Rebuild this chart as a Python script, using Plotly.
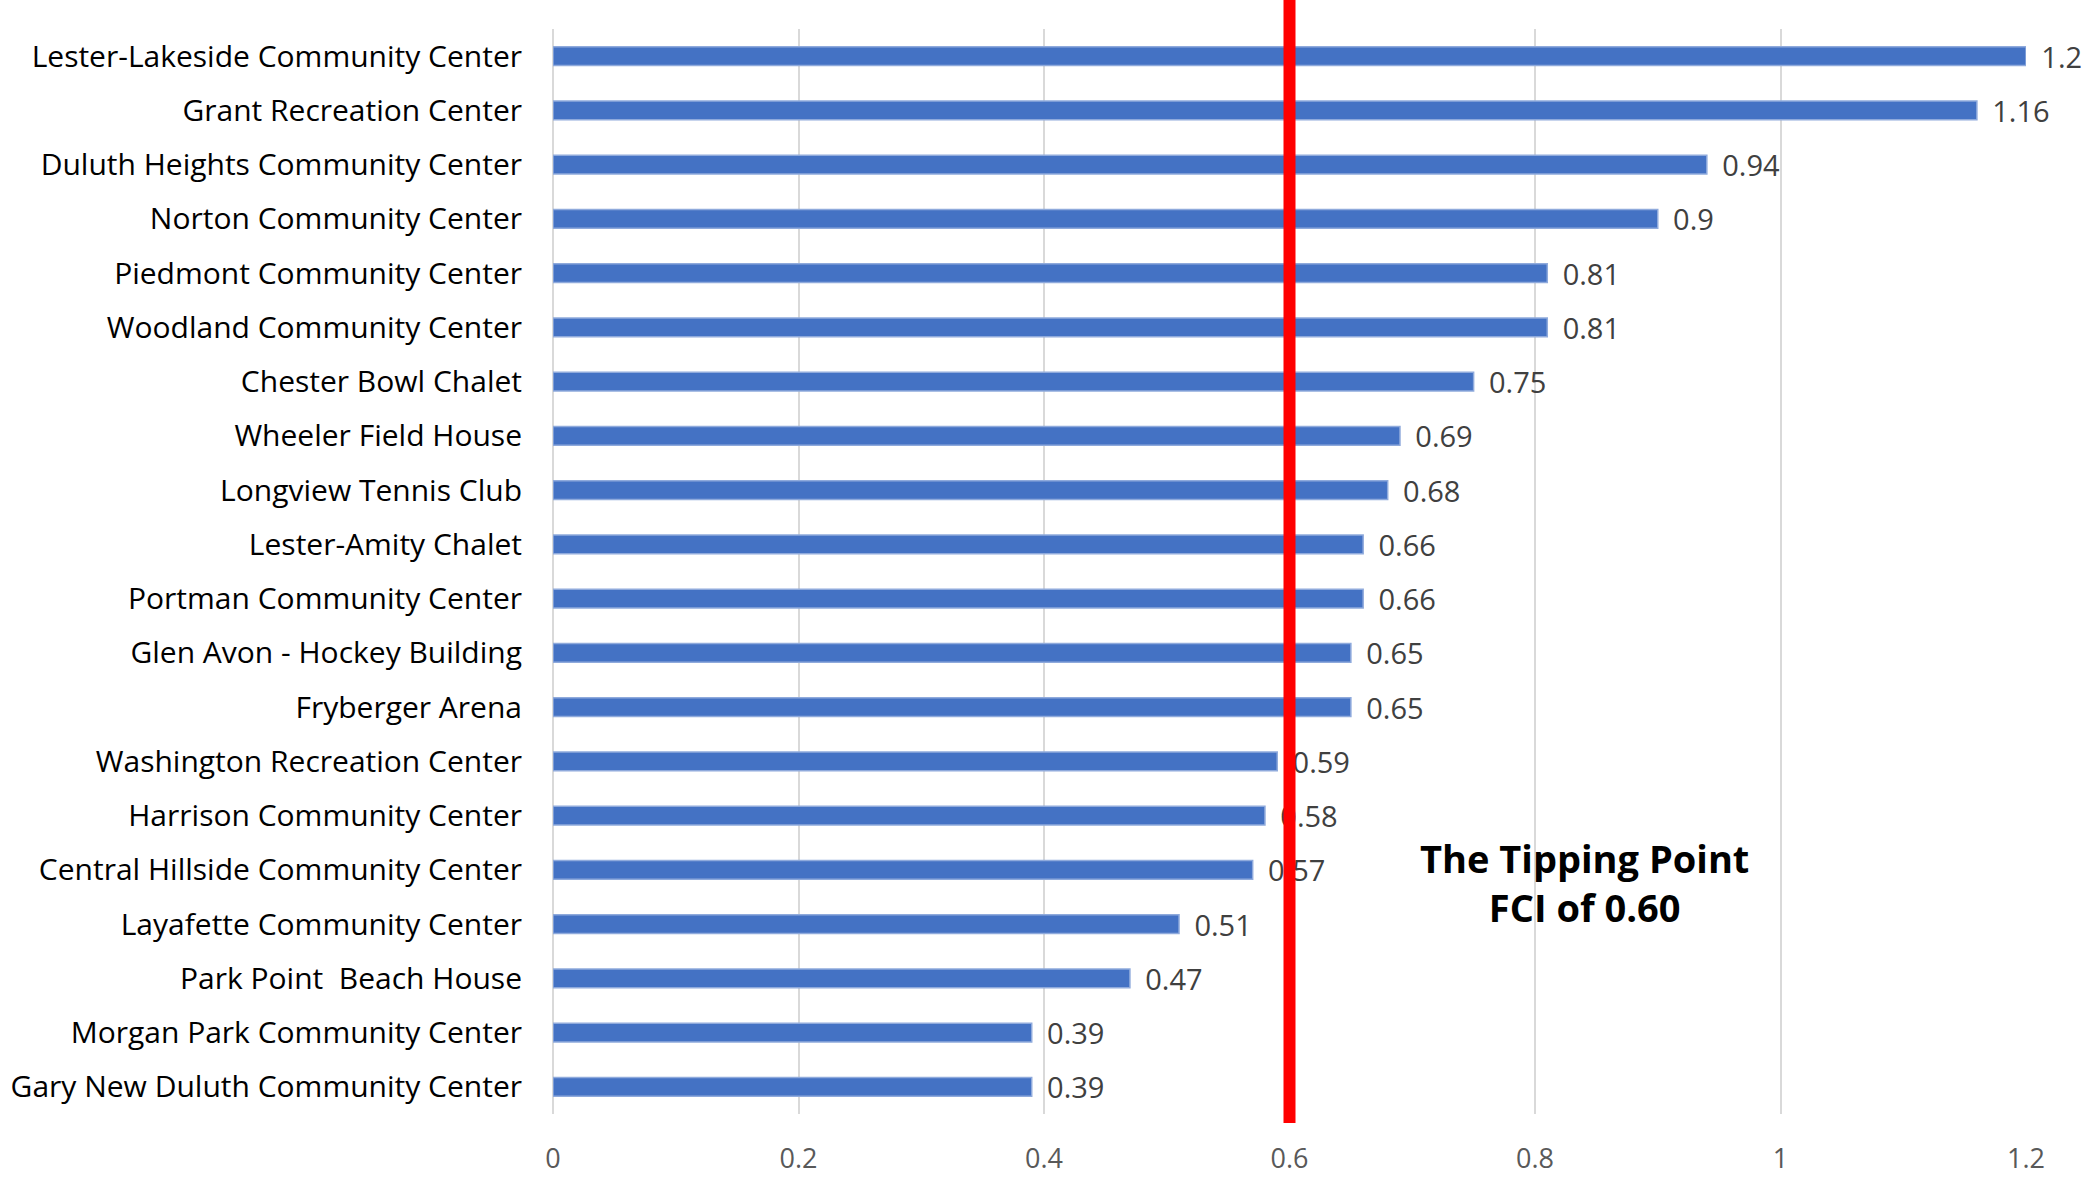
import plotly.graph_objects as go

facilities = [
    "Lester-Lakeside Community Center",
    "Grant Recreation Center",
    "Duluth Heights Community Center",
    "Norton Community Center",
    "Piedmont Community Center",
    "Woodland Community Center",
    "Chester Bowl Chalet",
    "Wheeler Field House",
    "Longview Tennis Club",
    "Lester-Amity Chalet",
    "Portman Community Center",
    "Glen Avon - Hockey Building",
    "Fryberger Arena",
    "Washington Recreation Center",
    "Harrison Community Center",
    "Central Hillside Community Center",
    "Layafette Community Center",
    "Park Point  Beach House",
    "Morgan Park Community Center",
    "Gary New Duluth Community Center",
]
fci = [1.2, 1.16, 0.94, 0.9, 0.81, 0.81, 0.75, 0.69, 0.68, 0.66,
       0.66, 0.65, 0.65, 0.59, 0.58, 0.57, 0.51, 0.47, 0.39, 0.39]
x_ticks = [0, 0.2, 0.4, 0.6, 0.8, 1, 1.2]
x_tick_labels = ["0", "0.2", "0.4", "0.6", "0.8", "1", "1.2"]
tipping_point = 0.6
annotation_text = "The Tipping Point<br>FCI of 0.60"

W, H = 2083, 1178
ML, MR, MT, MB = 553, 57, 29, 64
plot_h = H - MT - MB

fig = go.Figure()
fig.add_trace(go.Bar(
    y=facilities,
    x=fci,
    orientation="h",
    width=0.35,
    marker=dict(color="#4472C4", line=dict(color="#8FAADC", width=1.5)),
    text=["\u00a0\u2009" + f"{v:g}" for v in fci],
    textposition="outside",
    constraintext="none",
    textfont=dict(family="Open Sans", size=29, color="#404040"),
    cliponaxis=False,
    hoverinfo="skip",
))

fig.add_shape(
    type="line", xref="x", yref="paper",
    x0=tipping_point, x1=tipping_point,
    y0=-(9 / plot_h), y1=1 + MT / plot_h,
    line=dict(color="#FF0000", width=12),
    layer="above",
)

fig.add_annotation(
    x=0.84, y=15.24, xref="x", yref="y",
    text="<b>" + annotation_text + "</b>",
    showarrow=False,
    font=dict(family="Open Sans", size=38, color="#000000"),
    align="center",
)

fig.update_layout(
    width=W, height=H,
    margin=dict(l=ML, r=MR, t=MT, b=MB, pad=0),
    paper_bgcolor="white",
    plot_bgcolor="white",
    showlegend=False,
    bargap=0.65,
    font=dict(family="Open Sans"),
)
fig.update_xaxes(
    range=[0, 1.2],
    tickvals=x_ticks,
    ticktext=x_tick_labels,
    showgrid=True,
    gridcolor="#D9D9D9",
    gridwidth=1.5,
    zeroline=True,
    zerolinecolor="#D9D9D9",
    zerolinewidth=1.5,
    showline=False,
    tickfont=dict(family="Open Sans", size=27, color="#595959"),
    ticklabelstandoff=26,
    automargin=False,
)
fig.update_yaxes(
    autorange="reversed",
    showgrid=False,
    showline=False,
    tickfont=dict(family="Open Sans", size=30, color="#000000"),
    ticklabelstandoff=30,
    automargin=False,
)

fig.write_html("out.html")
